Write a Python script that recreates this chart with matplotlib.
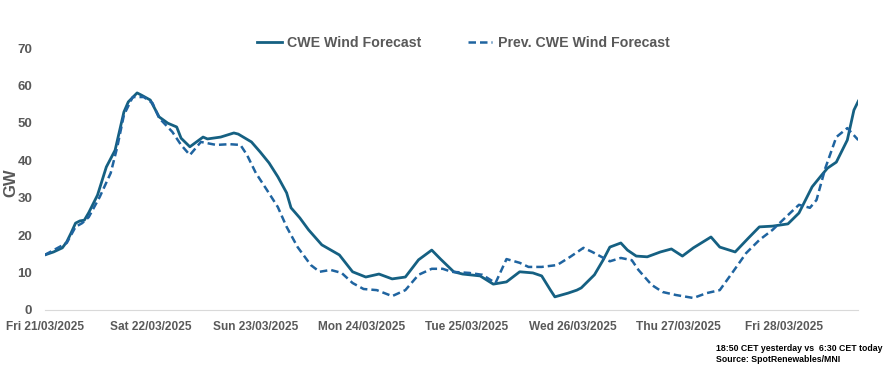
#!/usr/bin/env python3
"""CWE wind forecast vs previous run, Fri 21/03/2025 - Fri 28/03/2025."""
import pandas as pd
import matplotlib
matplotlib.use("Agg")
import matplotlib.pyplot as plt
import matplotlib.dates as mdates

START = pd.Timestamp("2025-03-21 00:00")

# hours after START, GW
cwe_hours = [0, 2, 4, 5, 6, 7, 8, 9, 10, 12, 14, 16, 18, 19, 21, 22, 24, 26, 28, 30,
             31, 33, 36, 37, 40, 43, 44, 47, 49, 51, 53, 55, 56, 58, 60, 63, 67, 70,
             73, 76, 79, 82, 85, 88, 90, 93, 95, 99, 102, 105, 108, 111, 113, 115,
             116, 119, 121, 122, 125, 127, 128.5, 131, 132.5, 134.5, 137, 140, 142.5,
             145, 147.5, 151.5, 153.5, 157, 160, 162.5, 165.5, 169, 171.5, 174.5,
             176.5, 178, 180, 182.5, 184, 185]
cwe_gw = [14.7, 15.5, 16.6, 18.2, 20.6, 23.2, 23.8, 24.0, 26.0, 30.7, 38.2, 42.7,
          52.9, 55.6, 58.0, 57.4, 56.1, 51.6, 49.9, 48.9, 45.9, 43.6, 46.2, 45.7,
          46.2, 47.3, 47.0, 44.9, 42.2, 39.3, 35.6, 31.3, 27.3, 24.6, 21.4, 17.4,
          14.7, 10.2, 8.8, 9.6, 8.3, 8.8, 13.4, 16.0, 13.6, 10.2, 9.6, 9.1, 6.9, 7.5,
          10.2, 9.9, 9.1, 5.3, 3.5, 4.5, 5.3, 5.9, 9.4, 13.4, 16.8, 17.9, 16.0,
          14.4, 14.2, 15.5, 16.3, 14.4, 16.6, 19.5, 16.8, 15.5, 19.2, 22.2, 22.4,
          23.0, 25.9, 32.9, 35.8, 37.9, 39.5, 45.4, 53.4, 55.8]

prev_hours = [0, 5, 7, 8.5, 10, 12.5, 15, 16.5, 18, 20, 22.5, 24.5, 26, 29, 31, 33,
              35.5, 39, 42, 44.5, 46, 48, 50.5, 53, 55, 57.5, 60.5, 62.5, 65, 67.5,
              70, 72.5, 75.5, 79, 82, 85, 88, 90.5, 92.5, 96.5, 99.5, 102.5, 105,
              108, 110, 113, 116.5, 119.5, 122.5, 124.5, 128.5, 131, 133.5, 135,
              138, 140.5, 143.5, 147.5, 150.5, 153.5, 156.5, 159.5, 162.5, 165.5,
              169.5, 171.5, 174, 175.5, 177.5, 180, 182.5, 185]
prev_gw = [14.7, 17.9, 22.2, 23.2, 24.8, 30.2, 36.6, 43.6, 52.1, 56.9, 56.9, 55.3,
           51.3, 47.6, 44.1, 41.4, 44.9, 44.1, 44.3, 44.1, 41.4, 36.6, 32.1, 27.5,
           22.2, 16.8, 12.0, 10.2, 10.7, 9.9, 7.2, 5.6, 5.3, 3.7, 5.3, 9.4, 11.0,
           11.0, 10.2, 9.9, 9.4, 7.2, 13.6, 12.6, 11.5, 11.5, 12.0, 14.2, 16.6,
           15.5, 13.0, 13.9, 13.3, 10.7, 6.7, 4.8, 4.0, 3.2, 4.5, 5.3, 10.2, 15.2,
           18.7, 21.4, 25.9, 28.1, 27.3, 29.4, 37.9, 46.2, 48.6, 45.4]

GREY = "#595959"
SANS = ["Liberation Sans", "DejaVu Sans"]


def main():
    t_cwe = [START + pd.Timedelta(hours=h) for h in cwe_hours]
    t_prev = [START + pd.Timedelta(hours=h) for h in prev_hours]

    fig = plt.figure(figsize=(8.95, 3.78), dpi=100)
    ax = fig.add_axes([0.050, 0.180, 0.909, 0.693])

    ax.plot(t_cwe, cwe_gw, color="#156082", lw=2.0, label="CWE Wind Forecast")
    ax.plot(t_prev, prev_gw, color="#1f64a0", lw=1.8, ls=(0, (3, 1.6)),
            label="Prev. CWE Wind Forecast")

    ax.set_ylim(0, 70)
    ax.set_yticks(range(0, 71, 10))
    ax.set_xlim(START, START + pd.Timedelta(hours=185))
    ax.xaxis.set_major_locator(mdates.DayLocator())
    ax.xaxis.set_major_formatter(mdates.DateFormatter("%a %d/%m/%Y"))

    for s in ("top", "right", "left"):
        ax.spines[s].set_visible(False)
    ax.spines["bottom"].set_color("#d9d9d9")
    ax.tick_params(length=0, colors=GREY)
    ax.tick_params(axis="x", pad=8)
    ax.tick_params(axis="y", pad=9)
    for lbl in ax.get_xticklabels():
        lbl.set_fontfamily(SANS)
        lbl.set_fontsize(8.6)
        lbl.set_fontweight("bold")
    for lbl in ax.get_yticklabels():
        lbl.set_fontsize(9.5)
        lbl.set_fontweight("bold")
        lbl.set_fontfamily(SANS)

    fig.text(0.012, 0.516, "GW", rotation=90, fontsize=12, fontweight="bold",
             color=GREY, family=SANS, ha="center", va="center")

    fig.legend(loc="center", bbox_to_anchor=(0.518, 0.886), ncol=2, frameon=False,
               handlelength=1.7, columnspacing=3.3, handletextpad=0.4,
               prop={"family": SANS, "weight": "bold", "size": 10.2},
               labelcolor=GREY)

    fig.text(0.800, 0.063, "18:50 CET yesterday vs  6:30 CET today\nSource: SpotRenewables/MNI",
             fontsize=6.3, fontweight="bold", family=SANS, color="black",
             va="center", ha="left", linespacing=1.35)

    fig.savefig("out.png", dpi=100)


if __name__ == "__main__":
    main()
